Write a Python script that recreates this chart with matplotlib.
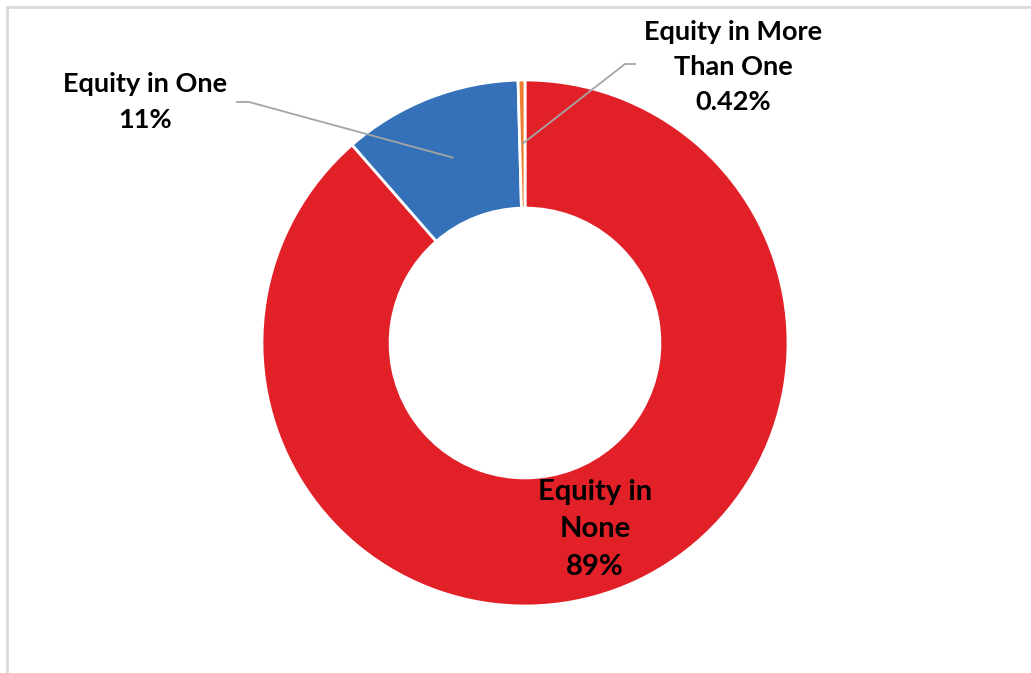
import numpy as np
import matplotlib
matplotlib.use("Agg")
import matplotlib.pyplot as plt
from matplotlib.lines import Line2D

categories = ["Equity in None", "Equity in One", "Equity in More Than One"]
values = [88.58, 11.0, 0.42]
label_texts = ["Equity in\nNone\n89%", "Equity in One\n11%", "Equity in More\nThan One\n0.42%"]
colors = ["#E12028", "#3571B8", "#ED7D31"]

W, H = 1031, 673
fig = plt.figure(figsize=(W / 100, H / 100), dpi=100)
fig.patch.set_facecolor("white")

# frame (top and left edges visible)
fig.add_artist(Line2D([7 / W, 1], [1 - 7 / H, 1 - 7 / H], color="#D9D9D9", lw=2, transform=fig.transFigure))
fig.add_artist(Line2D([7 / W, 7 / W], [0, 1 - 7 / H], color="#D9D9D9", lw=2, transform=fig.transFigure))

cx, cy, R = 525, 343, 263
ax = fig.add_axes([(cx - R) / W, (H - cy - R) / H, 2 * R / W, 2 * R / H])
wedges, _ = ax.pie(values, colors=colors, startangle=90, counterclock=False,
                   radius=1.0, wedgeprops=dict(width=0.487, edgecolor="white", linewidth=2))
ax.set_xlim(-1, 1)
ax.set_ylim(-1, 1)
ax.set_aspect("equal")
ax.axis("off")

font = dict(family=["Lato", "DejaVu Sans"], fontweight="bold", fontsize=19.5, color="black",
            ha="center", va="center", linespacing=1.55)
font_in = dict(font, fontsize=21, linespacing=1.55)

def mid(w):
    a = np.deg2rad((w.theta1 + w.theta2) / 2)
    return np.cos(a), np.sin(a)

r_lab = 0.757
# None: inside the ring
mx, my = mid(wedges[0])
ax.text(mx * r_lab, my * r_lab, label_texts[0], **font_in)

def px(x, y):
    return (x - cx) / R, (cy - y) / R

# One: outside with leader
mx, my = mid(wedges[1])
tx, ty = px(145, 102)
ax.text(tx, ty, label_texts[1], clip_on=False, **font)
p1 = px(237, 102); p2 = px(249, 102)
ax.plot([p1[0], p2[0], mx * r_lab], [p1[1], p2[1], my * r_lab], color="#A5A5A5", lw=1.3, clip_on=False)

# More than one
mx, my = mid(wedges[2])
tx, ty = px(733, 67)
ax.text(tx, ty, label_texts[2], clip_on=False, **font)
p1 = px(635, 64); p2 = px(625, 64)
ax.plot([p1[0], p2[0], mx * r_lab], [p1[1], p2[1], my * r_lab], color="#A5A5A5", lw=1.3, clip_on=False)

fig.savefig("out.png", dpi=100)
